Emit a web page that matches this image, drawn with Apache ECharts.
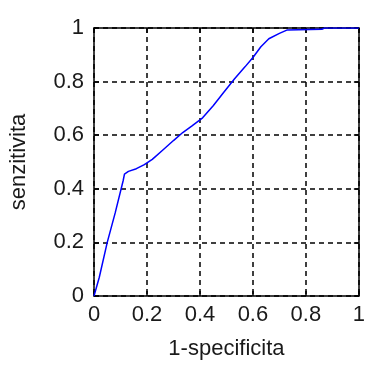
<!DOCTYPE html>
<html><head><meta charset="utf-8">
<script src="https://cdn.jsdelivr.net/npm/echarts@6/dist/echarts.min.js"></script>
<style>html,body{margin:0;padding:0;background:#fff}#c{width:368px;height:365px}</style>
</head><body><div id="c"></div>
<script>
var fpr = [0,0.02,0.05,0.08,0.11,0.115,0.13,0.16,0.19,0.22,0.26,0.30,0.335,0.37,0.41,0.45,0.49,0.53,0.57,0.60,0.63,0.66,0.70,0.73,0.86,0.87,1];
var tpr = [0,0.07,0.20,0.31,0.43,0.455,0.465,0.475,0.49,0.51,0.545,0.58,0.61,0.635,0.665,0.71,0.76,0.81,0.855,0.89,0.93,0.96,0.98,0.993,0.995,1,1];
var xTitle = '1-specificita';
var yTitle = 'senzitivita';
var data = fpr.map(function(v,i){return [v,tpr[i]];});
var font = 'Liberation Sans, Arial, sans-serif';
var txt = '#1a1a1a';
var chart = echarts.init(document.getElementById('c'));
var fmt = function(v){return String(Math.round(v*10)/10);};
chart.setOption({
  animation:false,
  grid:{left:94,right:5,top:28,bottom:69,containLabel:false},
  xAxis:[{type:'value',min:0,max:1,interval:0.2,position:'bottom',
    name:xTitle,nameLocation:'middle',nameGap:42,
    nameTextStyle:{fontFamily:font,fontSize:22,color:txt},
    axisLine:{show:true,lineStyle:{color:'#000',width:1.5}},
    axisTick:{show:true,inside:true,length:5,lineStyle:{color:'#000',width:1.5}},
    axisLabel:{margin:8,fontFamily:font,fontSize:22,color:txt,formatter:fmt},
    splitLine:{show:true,lineStyle:{type:[5,4],color:'#000',width:1.5}}},
   {type:'value',min:0,max:1,interval:0.2,position:'top',
    axisLine:{show:true,onZero:false,lineStyle:{color:'#000',width:1.5}},
    axisTick:{show:true,inside:true,length:5,lineStyle:{color:'#000',width:1.5}},
    axisLabel:{show:false},splitLine:{show:false}}],
  yAxis:[{type:'value',min:0,max:1,interval:0.2,position:'left',
    name:yTitle,nameLocation:'middle',nameGap:64,
    nameTextStyle:{fontFamily:font,fontSize:22,color:txt},
    axisLine:{show:true,lineStyle:{color:'#000',width:1.5}},
    axisTick:{show:true,inside:true,length:5,lineStyle:{color:'#000',width:1.5}},
    axisLabel:{margin:10,fontFamily:font,fontSize:22,color:txt,formatter:fmt},
    splitLine:{show:true,lineStyle:{type:[5,4],color:'#000',width:1.5}}},
   {type:'value',min:0,max:1,interval:0.2,position:'right',
    axisLine:{show:true,onZero:false,lineStyle:{color:'#000',width:1.5}},
    axisTick:{show:true,inside:true,length:5,lineStyle:{color:'#000',width:1.5}},
    axisLabel:{show:false},splitLine:{show:false}}],
  series:[{type:'line',data:data,showSymbol:false,symbol:'none',
    lineStyle:{color:'#0000ff',width:1.5},z:5}]
});
</script></body></html>
